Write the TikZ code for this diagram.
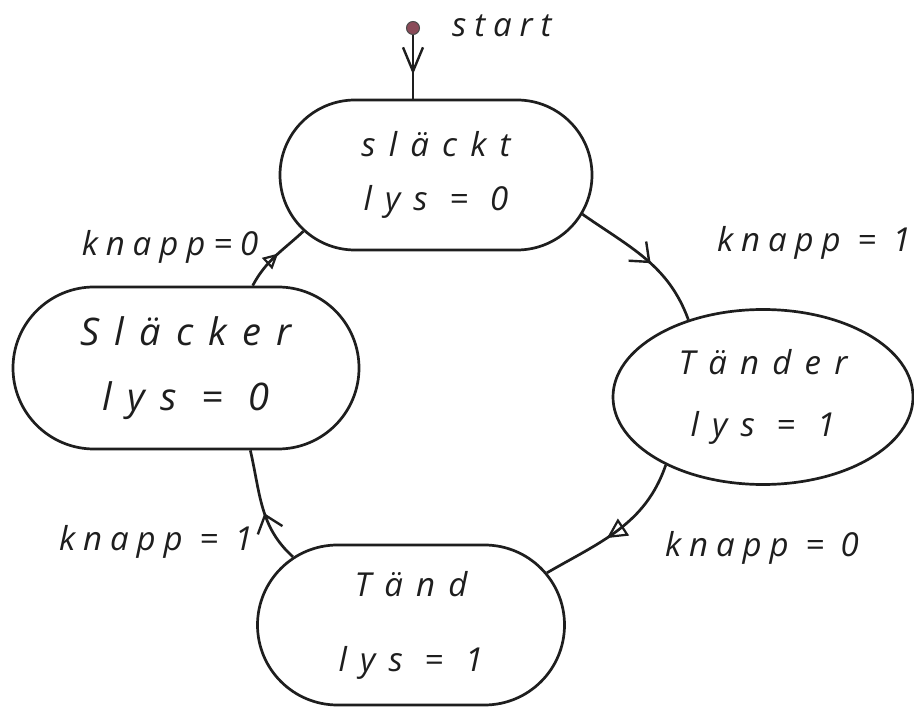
\documentclass[tikz,border=0pt]{standalone}
\usepackage{fontspec}
\setmainfont{Open Sans}
\newfontfamily\hand{Open Sans}[LetterSpace=40]
\newfontfamily\handlbl{Open Sans}[LetterSpace=24]
\usetikzlibrary{shapes.misc,shapes.geometric,arrows.meta,decorations.markings}
\definecolor{ink}{HTML}{1E1E1E}
\definecolor{dotred}{HTML}{8A4A58}
\begin{document}
\begin{tikzpicture}[x=1pt,y=1pt,
  pen/.style={draw=ink, line width=2.7pt},
  handtext/.style 2 args={font=\hand\itshape\fontsize{#1}{#2}\selectfont, text=ink, align=center},
  stadium/.style={pen, rounded rectangle, inner sep=0pt},
  oval/.style={pen, ellipse, inner sep=0pt},
  lbl/.style={font=\handlbl\itshape\fontsize{33}{38}\selectfont, text=ink, inner sep=0pt},
  mid barb/.style={postaction={decorate}, decoration={markings,
      mark=at position #1 with {\arrow[line width=2.4pt]{Straight Barb[length=16pt,width=26pt]}}}},
  mid tri/.style 2 args={postaction={decorate}, decoration={markings,
      mark=at position #1 with {\arrow[line width=2.2pt]{Triangle[open,length=#2,width=#2]}}}}
]
\useasboundingbox[fill=white] (0,0) rectangle (914,-708);

% states
\node[stadium, handtext={33}{54}, minimum width=312pt, minimum height=150pt] (slackt) at (436,-175)
  {sl\"ackt\\lys = 0};
\node[oval, handtext={33}{62}, minimum width=300pt, minimum height=175pt] (tander) at (763,-397)
  {T\"ander\\lys = 1};
\node[stadium, handtext={33}{75}, minimum width=307pt, minimum height=160pt] (tand) at (411,-625)
  {T\"and\\lys = 1};
\node[stadium, handtext={38}{65}, minimum width=346pt, minimum height=162pt] (slacker) at (186,-368)
  {Sl\"acker\\lys = 0};

% initial marker
\node[circle, fill=dotred, draw=ink!80, line width=1pt, minimum size=13pt, inner sep=0pt] (init) at (413,-28) {};
\node[lbl, anchor=west] (startlbl) at (452,-26) {start};
\draw[pen, postaction={decorate}, decoration={markings,
      mark=at position 0.62 with {\arrow[line width=2.4pt]{Straight Barb[length=24pt,width=20pt]}}}]
  (init) -- (init |- slackt.north);

% transitions around the ring
\draw[pen, mid barb=0.55] (slackt.-15) to[out=-35,in=110] (tander.134);
\draw[pen, mid tri={0.58}{20pt}] (tander.215) to[out=-109,in=30] (tand.21);
\draw[pen, mid barb=0.45] (tand.150) to[out=138,in=-77] (slacker.-52);
\draw[pen, mid tri={0.55}{15pt}] (slacker.51) to[out=62,in=223] (slackt.203);

% transition labels
\node[lbl] (k1) at (814,-243) {knapp = 1};
\node[lbl] (k2) at (762,-548) {knapp = 0};
\node[lbl] (k3) at (156,-542) {knapp = 1};
\node[lbl] (k4) at (170,-247) {knapp=0};
\end{tikzpicture}
\end{document}
